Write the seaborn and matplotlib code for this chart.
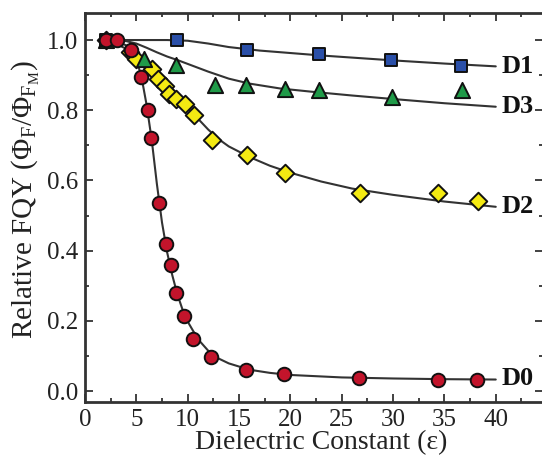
import matplotlib
matplotlib.use("Agg")
import matplotlib.pyplot as plt
import seaborn as sns
import pandas as pd
from matplotlib.ticker import MultipleLocator

# ---- data: measured points ----
d0_x = [2.0, 3.15, 4.48, 5.45, 6.1, 6.46, 7.2, 7.85, 8.34, 8.83, 9.67, 10.55, 12.3, 15.7, 19.4, 26.7, 34.4, 38.2]
d0_y = [1.0, 1.0, 0.971, 0.895, 0.80, 0.722, 0.537, 0.418, 0.359, 0.28, 0.215, 0.148, 0.098, 0.060, 0.048, 0.036, 0.033, 0.033]

d1_x = [2.0, 9.0, 15.8, 22.8, 29.8, 36.6]
d1_y = [1.0, 1.0, 0.971, 0.959, 0.942, 0.926]

d2_x = [2.0, 4.4, 5.0, 6.5, 7.14, 7.8, 8.15, 8.88, 9.78, 10.6, 12.4, 15.8, 19.5, 26.8, 34.4, 38.3]
d2_y = [1.0, 0.965, 0.945, 0.917, 0.888, 0.870, 0.847, 0.831, 0.819, 0.787, 0.715, 0.672, 0.622, 0.563, 0.563, 0.541]

d3_x = [2.0, 5.7, 8.9, 12.66, 15.7, 19.5, 22.8, 29.9, 36.7]
d3_y = [1.0, 0.947, 0.929, 0.872, 0.872, 0.860, 0.857, 0.838, 0.859]

# ---- data: fitted curves ----
c0_x = [2, 3, 4, 4.5, 5, 5.5, 6, 6.5, 7, 7.5, 8, 8.5, 9, 9.5, 10, 11, 12, 13, 14, 16, 18, 20, 25, 30, 35, 40]
c0_y = [1.0, 0.997, 0.985, 0.97, 0.945, 0.895, 0.815, 0.715, 0.59, 0.48, 0.395, 0.33, 0.275, 0.232, 0.198, 0.148,
        0.115, 0.093, 0.079, 0.061, 0.052, 0.046, 0.039, 0.036, 0.034, 0.033]

c1_x = [2.5, 5, 8, 10, 12, 14, 17, 20, 23, 26, 30, 35, 40]
c1_y = [1.0, 1.0, 1.0, 0.998, 0.99, 0.98, 0.970, 0.963, 0.956, 0.950, 0.942, 0.933, 0.925]

c2_x = [2, 3, 4, 5, 6, 7, 8, 9, 10, 11, 12, 13, 14, 16, 18, 20, 23, 26, 30, 35, 40]
c2_y = [1.0, 0.99, 0.975, 0.952, 0.927, 0.898, 0.866, 0.834, 0.805, 0.776, 0.745, 0.718, 0.697, 0.667, 0.642, 0.622,
        0.597, 0.577, 0.559, 0.540, 0.525]

c3_x = [3, 4, 5, 6, 7, 8, 9, 10, 12, 14, 16, 19, 22, 26, 30, 35, 40]
c3_y = [1.0, 0.997, 0.99, 0.978, 0.965, 0.953, 0.943, 0.932, 0.91, 0.89, 0.876, 0.862, 0.853, 0.842, 0.832, 0.82, 0.81]

labels = ["D0", "D1", "D2", "D3"]
label_y = [0.035, 0.925, 0.525, 0.81]

x_ticks = [0, 5, 10, 15, 20, 25, 30, 35, 40]
y_ticks = [0.0, 0.2, 0.4, 0.6, 0.8, 1.0]

sns.set_theme(style="ticks")
plt.rcParams["font.family"] = ["Liberation Serif", "DejaVu Serif"]
plt.rcParams["mathtext.fontset"] = "custom"
plt.rcParams["mathtext.rm"] = "Liberation Serif"
plt.rcParams["mathtext.it"] = "Liberation Serif"

fig = plt.figure(figsize=(5.42, 4.58), dpi=100)
ax = fig.add_axes([85 / 542, 56 / 458, 458 / 542, 389 / 458])

line_c = "#333333"
curves = [(c0_x, c0_y), (c1_x, c1_y), (c2_x, c2_y), (c3_x, c3_y)]
for cx, cy in curves:
    sns.lineplot(x=cx, y=cy, ax=ax, color=line_c, linewidth=1.5, sort=False, zorder=2)

ek = dict(edgecolor="#111111", linewidth=1.4, legend=False)
sns.scatterplot(x=d2_x, y=d2_y, ax=ax, marker="D", s=80, color="#f4ea12", zorder=3, **ek)
sns.scatterplot(x=d3_x, y=d3_y, ax=ax, marker="^", s=120, color="#1f9a48", zorder=4, **ek)
sns.scatterplot(x=d1_x, y=d1_y, ax=ax, marker="s", s=65, color="#2a4fa8", zorder=5, **ek)
sns.scatterplot(x=d0_x, y=d0_y, ax=ax, marker="o", s=95, color="#c2142b", zorder=6, **ek)

for lab, ly in zip(labels, label_y):
    ax.text(40.6, ly, lab, fontsize=19, fontweight="bold", va="center", ha="left", color="#111111")

ax.set_xlim(0, 44.6)
ax.set_ylim(-0.031, 1.077)
ax.set_xticks(x_ticks)
ax.set_yticks(y_ticks)
ax.set_yticklabels([f"{v:.1f}" for v in y_ticks])
ax.xaxis.set_minor_locator(MultipleLocator(2.5))
ax.yaxis.set_minor_locator(MultipleLocator(0.1))
ax.tick_params(which="both", direction="in", top=True, right=True, colors="#333333",
               labelcolor="#222222", labelsize=18, width=1.3)
ax.tick_params(which="major", length=6, pad=5)
ax.tick_params(which="minor", length=3)
for sp in ax.spines.values():
    sp.set_linewidth(2)
    sp.set_color("#333333")

ax.set_xlabel("Dielectric Constant (\u03b5)", fontsize=20, color="#222222")
ax.xaxis.set_label_coords(0.516, -0.072)
ax.set_ylabel(r"Relative FQY ($\Phi_\mathrm{F}/\Phi_{\mathrm{F}_\mathrm{M}}$)", fontsize=21, color="#222222")
ax.yaxis.set_label_coords(-0.094, 0.52)

fig.savefig("out.png", dpi=100)
